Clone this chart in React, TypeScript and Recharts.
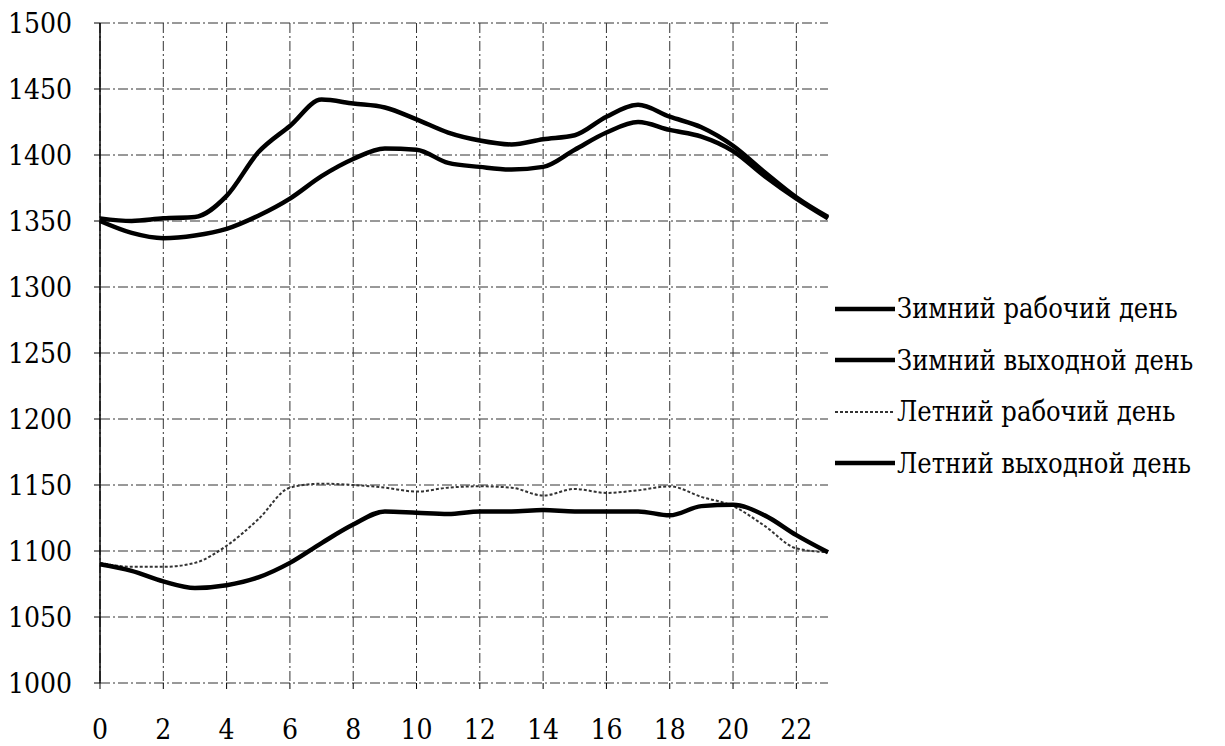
import React from "react";
import { LineChart, Line, XAxis, YAxis, CartesianGrid } from "recharts";

const hours = [0, 1, 2, 3, 4, 5, 6, 7, 8, 9, 10, 11, 12, 13, 14, 15, 16, 17, 18, 19, 20, 21, 22, 23];
const winterWork = [1352, 1350, 1352, 1353, 1369, 1402, 1422, 1442, 1439, 1436, 1427, 1417, 1411, 1408, 1412, 1415, 1429, 1438, 1429, 1421, 1407, 1387, 1368, 1353];
const winterWeekend = [1350, 1341, 1337, 1339, 1344, 1354, 1367, 1384, 1397, 1405, 1404, 1394, 1391, 1389, 1391, 1404, 1417, 1425, 1419, 1414, 1403, 1384, 1367, 1352];
const summerWork = [1091, 1088, 1088, 1091, 1104, 1124, 1148, 1151, 1150, 1148, 1145, 1148, 1149, 1148, 1142, 1147, 1144, 1146, 1149, 1141, 1134, 1119, 1102, 1099];
const summerWeekend = [1090, 1085, 1077, 1072, 1074, 1080, 1091, 1106, 1120, 1130, 1129, 1128, 1130, 1130, 1131, 1130, 1130, 1130, 1127, 1134, 1135, 1127, 1112, 1099];

const xTicks = [0, 2, 4, 6, 8, 10, 12, 14, 16, 18, 20, 22];
const yTicks = [1000, 1050, 1100, 1150, 1200, 1250, 1300, 1350, 1400, 1450, 1500];

const seriesNames = ["Зимний рабочий день", "Зимний выходной день", "Летний рабочий день", "Летний выходной день"];

const data = hours.map((h, i) => ({
  h,
  ww: winterWork[i],
  wh: winterWeekend[i],
  sw: summerWork[i],
  sh: summerWeekend[i],
}));

const FONT = "DejaVu Serif Condensed, DejaVu Serif";

const styles = [
  { key: "ww", stroke: "#000", width: 4.5, dash: undefined as string | undefined },
  { key: "wh", stroke: "#000", width: 4.5, dash: undefined as string | undefined },
  { key: "sw", stroke: "#333", width: 2, dash: "3 2" },
  { key: "sh", stroke: "#000", width: 4.5, dash: undefined as string | undefined },
];

export default function App() {
  return (
    <div style={{ position: "absolute", left: 0, top: 0, width: 1225, height: 746, background: "#fff" }}>
      <LineChart
        width={1225}
        height={746}
        data={data}
        margin={{ top: 23, right: 397, bottom: 0, left: 0 }}
      >
        <CartesianGrid
          stroke="#333"
          strokeWidth={1}
          strokeDasharray="10 3 2 3"
          horizontalValues={yTicks}
          verticalValues={xTicks}
        />
        <XAxis
          dataKey="h"
          type="number"
          domain={[0, 23]}
          ticks={xTicks}
          interval={0}
          axisLine={false}
          tickLine={{ stroke: "#000" }}
          tickSize={6}
          tickMargin={30}
          tick={{ fill: "#000", fontSize: 28, fontFamily: FONT }}
          height={63}
        />
        <YAxis
          type="number"
          domain={[1000, 1500]}
          ticks={yTicks}
          interval={0}
          axisLine={{ stroke: "#000", strokeWidth: 1.5 }}
          tickLine={{ stroke: "#000" }}
          tickSize={6}
          tickMargin={22}
          tick={{ fill: "#000", fontSize: 28, fontFamily: FONT }}
          width={100}
        />
        {styles.map((s, i) => (
          <Line
            key={s.key}
            dataKey={s.key}
            name={seriesNames[i]}
            type="monotone"
            stroke={s.stroke}
            strokeWidth={s.width}
            strokeDasharray={s.dash}
            dot={false}
            activeDot={false}
            isAnimationActive={false}
          />
        ))}
      </LineChart>
      <div style={{ position: "absolute", left: 835, top: 283, fontFamily: FONT, fontSize: 27, color: "#000" }}>
        {seriesNames.map((n, i) => (
          <div key={n} style={{ display: "flex", alignItems: "center", height: 51.5 }}>
            <svg width={60} height={10} style={{ flex: "none" }}>
              <line
                x1={0}
                y1={5}
                x2={60}
                y2={5}
                stroke={styles[i].stroke}
                strokeWidth={styles[i].width}
                strokeDasharray={styles[i].dash}
              />
            </svg>
            <span style={{ whiteSpace: "nowrap", marginLeft: 2 }}>{n}</span>
          </div>
        ))}
      </div>
    </div>
  );
}
